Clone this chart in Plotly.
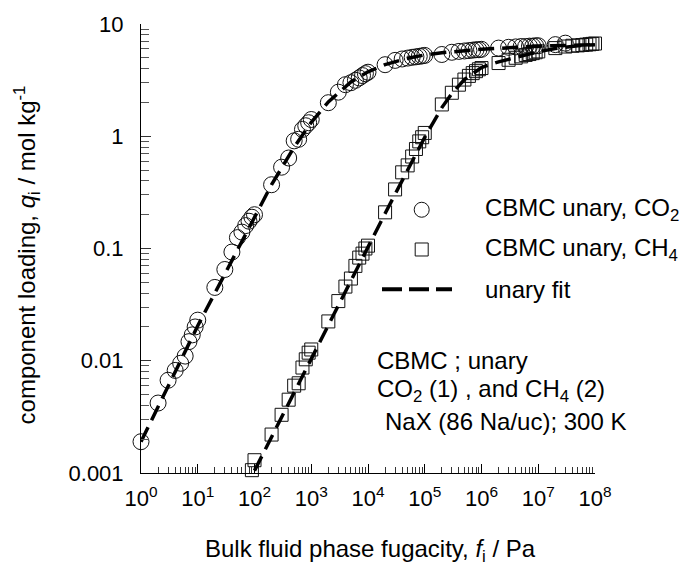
import plotly.graph_objects as go

# ---------------- data ----------------
co2_f = [1, 2, 3, 4, 5, 6, 7, 8, 9, 10,
         20, 30, 40, 50, 60, 70, 80, 90, 100,
         200, 300, 400, 500, 600, 700, 800, 900, 1000,
         2000, 3000, 4000, 5000, 6000, 7000, 8000, 9000, 1e4,
         2e4, 3e4, 4e4, 5e4, 6e4, 7e4, 8e4, 9e4, 1e5,
         2e5, 3e5, 4e5, 5e5, 6e5, 7e5, 8e5, 9e5, 1e6,
         2e6, 3e6, 4e6, 5e6, 6e6, 7e6, 8e6, 9e6, 1e7,
         2e7, 3e7]
co2_q = [0.0019, 0.0042, 0.0067, 0.0082, 0.0095, 0.011, 0.0148, 0.017, 0.020, 0.023,
         0.045, 0.065, 0.093, 0.125, 0.14, 0.16, 0.175, 0.19, 0.20,
         0.37, 0.53, 0.64, 0.91, 0.94, 1.15, 1.24, 1.32, 1.41,
         1.99, 2.47, 2.88, 3.0, 3.15, 3.31, 3.47, 3.61, 3.72,
         4.34, 4.74, 4.88, 4.97, 5.05, 5.1, 5.15, 5.2, 5.25,
         5.35, 5.6, 5.7, 5.75, 5.8, 5.85, 5.9, 5.9, 5.95,
         6.1, 6.2, 6.25, 6.3, 6.3, 6.35, 6.35, 6.4, 6.4,
         6.55, 6.75]

ch4_f = [90, 100, 200, 300, 400, 500, 600, 700, 800, 900, 1000,
         2000, 3000, 4000, 5000, 6000, 7000, 8000, 9000, 1e4,
         2e4, 3e4, 4e4, 5e4, 6e4, 7e4, 8e4, 9e4, 1e5,
         2e5, 3e5, 4e5, 5e5, 6e5, 7e5, 8e5, 9e5, 1e6,
         2e6, 3e6, 4e6, 5e6, 6e6, 7e6, 8e6, 9e6, 1e7,
         2e7, 3e7, 4e7, 5e7, 6e7, 7e7, 8e7, 9e7, 1e8]
ch4_q = [0.00106, 0.0013, 0.0022, 0.0033, 0.0045, 0.006, 0.0063, 0.0087, 0.0103, 0.0118, 0.0126,
         0.0224, 0.034, 0.0458, 0.054, 0.070, 0.083, 0.090, 0.100, 0.106,
         0.21, 0.336, 0.477, 0.55, 0.66, 0.77, 0.9, 0.98, 1.07,
         1.92, 2.44, 2.88, 3.2, 3.45, 3.65, 3.8, 3.95, 4.05,
         4.49, 4.8, 5.0, 5.15, 5.3, 5.4, 5.5, 5.6, 5.7,
         6.1, 6.3, 6.4, 6.45, 6.5, 6.55, 6.6, 6.65, 6.7]

fit_co2_f = [1, 2, 5, 10, 20, 50, 100, 200, 500, 1e3, 2e3, 5e3, 1e4, 2e4, 5e4,
             1e5, 2e5, 5e5, 1e6, 1e7, 1e8]
fit_co2_q = [0.0019, 0.0039, 0.0098, 0.0205, 0.040, 0.097, 0.195, 0.37, 0.80, 1.33,
             2.02, 3.05, 3.75, 4.35, 4.95, 5.3, 5.55, 5.8, 5.95, 6.35, 6.55]

fit_ch4_f = [100, 200, 500, 1e3, 2e3, 5e3, 1e4, 2e4, 5e4, 1e5, 2e5, 3e5, 5e5,
             1e6, 2e6, 5e6, 1e7, 2e7, 5e7, 1e8]
fit_ch4_q = [0.00105, 0.0021, 0.0053, 0.0106, 0.021, 0.052, 0.104, 0.205, 0.50, 0.98,
             1.8, 2.4, 3.2, 4.1, 4.6, 5.2, 5.65, 6.05, 6.4, 6.55]

x_tickvals = [10 ** e for e in range(0, 9)]
x_ticktext = ["10<sup>%d</sup>" % e for e in range(0, 9)]
y_tickvals = [0.001, 0.01, 0.1, 1, 10]
y_ticktext = ["0.001", "0.01", "0.1", "1", "10"]

legend_labels = ["CBMC unary, CO<sub>2</sub>", "CBMC unary, CH<sub>4</sub>", "unary fit"]
note_lines = ["CBMC ; unary", "CO<sub>2</sub> (1) , and CH<sub>4</sub> (2)", "NaX (86 Na/uc); 300 K"]

# ---------------- figure ----------------
FONT = "Liberation Sans, Arial, sans-serif"
L, R, T, B = 141, 88, 21, 92
W, H = 683, 565
PW, PH = W - L - R, H - T - B


def px(x):
    return (x - L) / PW


def py(y):
    return (H - B - y) / PH


fig = go.Figure()
fig.add_trace(go.Scatter(x=co2_f, y=co2_q, mode="markers", cliponaxis=False,
                         marker=dict(symbol="circle-open", size=16, color="#111",
                                     line=dict(width=1, color="#111")),
                         showlegend=False))
fig.add_trace(go.Scatter(x=ch4_f, y=ch4_q, mode="markers", cliponaxis=False,
                         marker=dict(symbol="square-open", size=13, color="#111",
                                     line=dict(width=1, color="#111")),
                         showlegend=False))
for fx, fq in [(fit_co2_f, fit_co2_q), (fit_ch4_f, fit_ch4_q)]:
    fig.add_trace(go.Scatter(x=fx, y=fq, mode="lines", cliponaxis=False,
                             line=dict(color="black", width=3.5, dash="16px,8px"),
                             showlegend=False))

minor_vals = [m * 10 ** e for e in range(0, 8) for m in range(2, 10)]
minor_y = [m * 10.0 ** e for e in range(-3, 1) for m in range(2, 10)]

fig.update_xaxes(type="log", range=[0, 8], showline=True, linecolor="black", linewidth=1,
                 ticks="inside", ticklen=9, tickwidth=1, tickcolor="black",
                 tickmode="array", tickvals=x_tickvals, ticktext=x_ticktext,
                 minor=dict(tickmode="array", tickvals=minor_vals, ticks="inside",
                            ticklen=6, tickwidth=1, tickcolor="#333", showgrid=False),
                 showgrid=False, zeroline=False, mirror=False,
                 tickfont=dict(family=FONT, size=22, color="black"),
                 ticklabelstandoff=6)
fig.update_yaxes(type="log", range=[-3, 1], showline=True, linecolor="black", linewidth=1,
                 ticks="inside", ticklen=10, tickwidth=1, tickcolor="#333",
                 tickmode="array", tickvals=y_tickvals, ticktext=y_ticktext,
                 minor=dict(tickmode="array", tickvals=minor_y, ticks="inside",
                            ticklen=8, tickwidth=1, tickcolor="#555", showgrid=False),
                 showgrid=False, zeroline=False, mirror=False,
                 tickfont=dict(family=FONT, size=22, color="black"),
                 ticklabelstandoff=12)

ann = []
tf = dict(family=FONT, size=24, color="black")
# axis titles
ann.append(dict(text="Bulk fluid phase fugacity, <i>f</i><sub>i</sub> / Pa", xref="paper", yref="paper",
                x=px(370), y=py(551), xanchor="center", yanchor="middle", showarrow=False, font=tf))
ann.append(dict(text="component loading, <i>q</i><sub>i</sub> / mol kg<sup>-1</sup>", xref="paper", yref="paper",
                x=px(27), y=py(254), xanchor="center", yanchor="middle", textangle=-90,
                showarrow=False, font=tf))
# legend texts
for lbl, yy in zip(legend_labels, [208, 248, 288]):
    ann.append(dict(text=lbl, xref="paper", yref="paper", x=px(483), y=py(yy),
                    xanchor="left", yanchor="middle", showarrow=False, font=tf))
# note
for line, xx, yy in zip(note_lines, [375, 375, 383], [360, 390, 421]):
    ann.append(dict(text=line, xref="paper", yref="paper", x=px(xx), y=py(yy),
                    xanchor="left", yanchor="middle", showarrow=False, font=tf))

shapes = [
    dict(type="circle", xref="paper", yref="paper", xsizemode="pixel", ysizemode="pixel",
         xanchor=px(421.7), yanchor=py(208), x0=-7.5, x1=7.5, y0=-7.5, y1=7.5,
         line=dict(color="#111", width=1)),
    dict(type="rect", xref="paper", yref="paper", xsizemode="pixel", ysizemode="pixel",
         xanchor=px(421.7), yanchor=py(248), x0=-6.5, x1=6.5, y0=-6.5, y1=6.5,
         line=dict(color="#111", width=1)),
    dict(type="line", xref="paper", yref="paper", x0=px(382), x1=px(452), y0=py(288), y1=py(288),
         line=dict(color="black", width=4, dash="20px,7px")),
]

fig.update_layout(width=W, height=H, margin=dict(l=L, r=R, t=T, b=B),
                  plot_bgcolor="white", paper_bgcolor="white",
                  annotations=ann, shapes=shapes, showlegend=False,
                  font=dict(family=FONT, color="black"))

fig.write_html("out.html", config={"displayModeBar": False},
               post_script="document.body.style.margin='0px';document.body.style.overflow='hidden';")
